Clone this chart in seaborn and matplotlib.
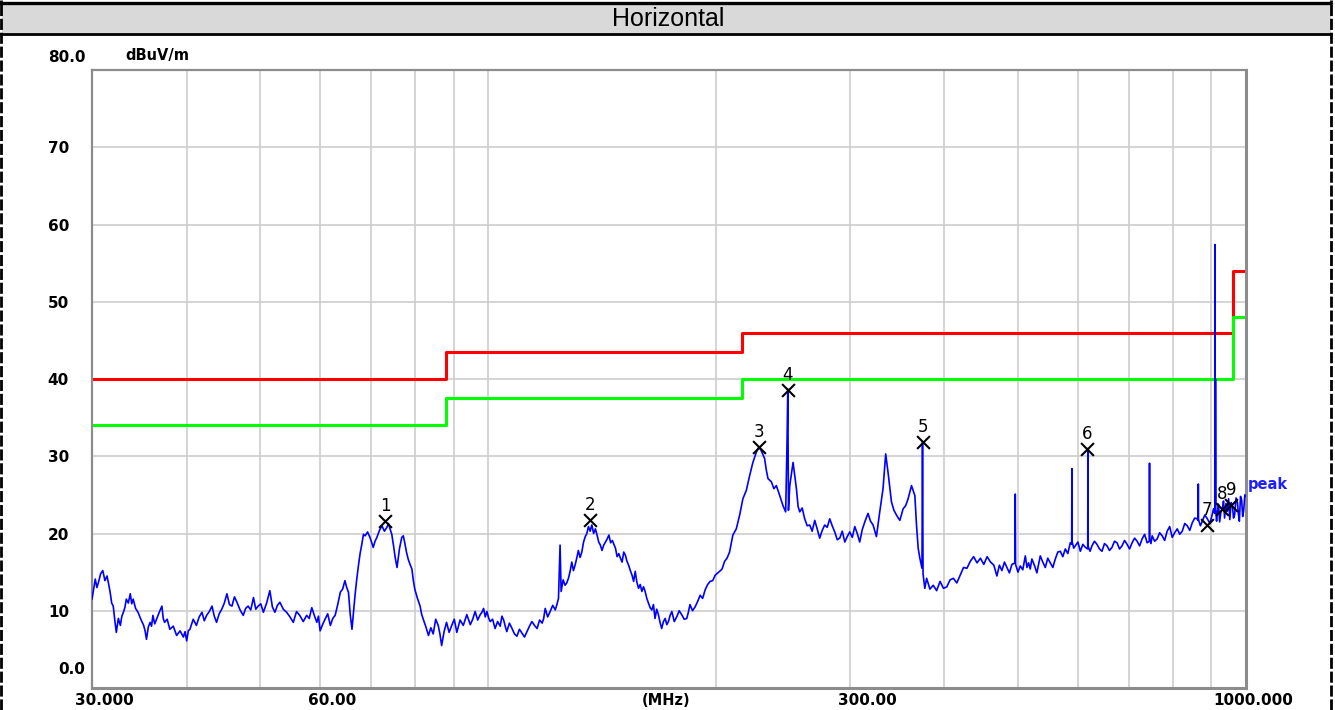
import matplotlib
matplotlib.use("Agg")
import matplotlib.pyplot as plt
import matplotlib.transforms as mtransforms
from matplotlib.lines import Line2D
from matplotlib.patches import Rectangle
from matplotlib.ticker import FixedLocator, LogLocator, NullFormatter
import seaborn as sns

# ---------------- data ----------------
trace_freq = [
    30.0, 30.15, 30.3, 30.45, 30.6, 30.8, 31.0, 31.2, 31.4, 31.55,
    31.7, 31.85, 32.0, 32.15, 32.3, 32.5, 32.7, 32.85, 33.0, 33.15,
    33.3, 33.5, 33.7, 33.85, 34.0, 34.25, 34.5, 34.8, 35.1, 35.25,
    35.4, 35.6, 35.8, 35.95, 36.1, 36.3, 36.5, 36.8, 37.1, 37.25,
    37.4, 37.7, 38.0, 38.4, 38.8, 39.2, 39.6, 39.8, 40.0, 40.2,
    40.4, 40.8, 41.2, 41.55, 41.9, 42.2, 42.5, 42.85, 43.2, 43.5,
    43.8, 44.15, 44.5, 44.85, 45.2, 45.55, 45.9, 46.25, 46.6, 47.05,
    47.5, 47.85, 48.2, 48.6, 49.0, 49.35, 49.7, 50.1, 50.5, 51.0,
    51.5, 51.9, 52.3, 52.7, 53.1, 53.65, 54.2, 54.75, 55.3, 55.85,
    56.4, 57.0, 57.6, 58.05, 58.5, 58.95, 59.4, 59.7, 60.0, 60.45,
    60.9, 61.4, 61.9, 62.35, 62.8, 63.3, 63.8, 64.25, 64.7, 65.05,
    65.4, 65.75, 66.1, 66.4, 66.7, 67.05, 67.4, 67.75, 68.1, 68.45,
    68.8, 69.3, 69.8, 70.15, 70.5, 70.9, 71.3, 71.85, 72.4, 72.95,
    73.5, 73.85, 74.2, 74.6, 75.0, 75.4, 75.8, 76.35, 76.9, 77.25,
    77.6, 78.0, 78.4, 78.85, 79.3, 79.65, 80.0, 80.65, 81.3, 81.7,
    82.1, 82.75, 83.4, 84.0, 84.6, 85.25, 85.9, 86.35, 86.8, 87.45,
    88.1, 88.8, 89.5, 90.2, 90.9, 91.8, 92.7, 93.7, 94.7, 95.4,
    96.1, 96.85, 97.6, 98.1, 98.6, 99.1, 99.6, 100.1, 100.6, 101.35,
    102.1, 102.9, 103.7, 104.25, 104.8, 105.3, 105.8, 106.65, 107.5, 108.3,
    109.1, 109.95, 110.8, 111.65, 112.5, 113.35, 114.2, 115.1, 116.0, 116.9,
    117.8, 118.35, 118.9, 119.8, 120.7, 121.65, 122.6, 123.2, 123.8, 124.4,
    124.8, 125.55, 126.3, 126.95, 127.6, 128.25, 128.9, 129.55, 130.2, 130.85,
    131.5, 132.2, 132.9, 133.6, 134.3, 134.95, 135.6, 136.3, 137.0, 137.75,
    138.5, 139.2, 139.9, 140.6, 141.3, 142.05, 142.8, 143.55, 144.3, 145.05,
    145.8, 146.5, 147.2, 147.95, 148.7, 149.45, 150.2, 150.95, 151.7, 152.45,
    153.2, 154.0, 154.8, 155.55, 156.3, 157.1, 157.9, 158.7, 159.5, 160.3,
    161.1, 161.9, 162.7, 163.55, 164.4, 165.2, 166.0, 166.85, 167.7, 168.55,
    169.4, 170.3, 171.2, 172.05, 172.9, 173.8, 174.7, 176.0, 177.3, 178.65,
    180.0, 181.4, 182.8, 183.7, 184.6, 186.05, 187.5, 188.95, 190.4, 191.85,
    193.3, 194.8, 196.3, 197.8, 199.3, 202.0, 203.5, 205.1, 206.6, 208.2,
    210.3, 212.5, 214.7, 216.8, 219.1, 221.3, 223.5, 225.8, 227.6, 229.3,
    231.6, 232.8, 234.0, 236.4, 238.2, 240.0, 242.5, 244.9, 246.9, 247.9,
    248.5, 249.0, 250.0, 252.5, 255.1, 256.4, 257.7, 259.6, 261.6, 263.6,
    265.6, 267.6, 269.7, 271.7, 273.8, 275.9, 278.0, 280.1, 282.3, 284.4,
    286.6, 288.8, 291.0, 293.2, 295.5, 297.7, 300.0, 302.3, 304.6, 306.9,
    309.2, 311.6, 314.0, 317.1, 319.5, 322.0, 325.3, 328.6, 331.9, 334.6,
    337.0, 340.5, 343.1, 345.7, 349.3, 352.8, 355.5, 358.2, 361.9, 365.6,
    367.5, 369.3, 371.2, 373.6, 374.2, 374.8, 376.8, 378.9, 382.7, 386.6,
    390.6, 394.7, 398.8, 402.9, 406.9, 411.0, 415.3, 419.6, 423.9, 428.3,
    432.7, 437.1, 441.6, 446.2, 450.8, 455.4, 460.1, 464.8, 467.0, 469.1,
    472.7, 476.3, 480.0, 483.6, 487.3, 491.0, 495.6, 496.0, 496.5, 500.1,
    503.7, 507.5, 511.4, 514.0, 516.5, 519.1, 521.7, 525.7, 529.7, 532.5,
    535.2, 539.3, 543.4, 547.5, 551.7, 556.0, 560.2, 564.5, 568.8, 573.1,
    577.5, 581.9, 586.3, 588.8, 589.2, 589.7, 592.5, 595.3, 600.0, 604.5,
    609.1, 613.8, 618.2, 618.6, 619.1, 622.6, 626.2, 631.0, 635.8, 640.7,
    645.6, 650.5, 655.5, 660.5, 665.5, 670.6, 675.8, 680.9, 686.1, 691.4,
    696.7, 702.0, 707.4, 712.8, 718.3, 723.8, 729.3, 734.9, 740.5, 745.4,
    745.9, 746.4, 749.1, 751.9, 757.6, 763.4, 769.2, 775.1, 781.0, 787.0,
    793.0, 799.1, 805.2, 811.4, 817.6, 823.9, 830.2, 836.5, 842.9, 849.4,
    855.9, 862.4, 864.6, 865.1, 865.6, 870.6, 875.7, 882.4, 889.2, 896.0,
    902.8, 906.1, 909.5, 910.2, 910.9, 911.5, 912.2, 914.4, 916.7, 919.8,
    923.0, 926.9, 930.8, 933.9, 937.0, 941.0, 945.1, 948.5, 952.0, 955.8,
    959.6, 962.8, 966.0, 970.2, 974.4, 977.2, 980.0, 983.5, 987.0, 990.0,
    993.0, 996.5, 1000.0,
]
trace_level = [
    11.5, 12.8, 14.1, 13.0, 13.7, 14.8, 15.2, 13.9, 14.5, 13.5,
    12.4, 11.0, 10.6, 8.8, 7.2, 9.0, 8.1, 9.3, 9.8, 10.4,
    11.5, 11.0, 12.2, 10.9, 11.5, 10.3, 9.8, 8.9, 8.1, 7.4,
    6.3, 7.9, 8.5, 8.0, 9.4, 8.3, 8.9, 9.8, 10.6, 9.0,
    8.5, 8.9, 7.6, 8.0, 6.8, 7.4, 6.6, 7.3, 6.1, 7.4,
    7.6, 8.9, 8.1, 9.2, 9.8, 8.7, 9.4, 9.9, 10.6, 9.3,
    8.5, 9.6, 10.2, 11.0, 12.2, 10.8, 10.6, 11.8, 11.1, 10.1,
    9.4, 10.3, 10.6, 10.1, 11.7, 10.2, 10.6, 10.9, 9.8, 11.0,
    12.6, 10.5, 9.8, 10.7, 11.1, 10.2, 9.8, 9.2, 8.5, 9.9,
    9.4, 8.6, 9.4, 9.0, 10.4, 9.4, 8.5, 9.3, 7.4, 8.2,
    8.9, 9.6, 8.1, 9.0, 9.4, 10.8, 12.4, 12.8, 13.9, 13.0,
    12.4, 9.5, 7.6, 9.8, 11.9, 14.0, 15.8, 17.4, 18.6, 19.9,
    19.7, 20.2, 19.5, 18.9, 18.2, 19.0, 19.5, 20.4, 21.0, 20.3,
    20.8, 21.3, 20.6, 19.9, 18.4, 16.8, 15.6, 18.0, 19.5, 19.7,
    18.8, 17.6, 16.7, 16.0, 15.4, 13.9, 12.8, 11.6, 10.6, 9.5,
    8.9, 7.9, 6.8, 7.8, 7.0, 8.9, 8.1, 7.0, 5.5, 7.3,
    8.5, 7.2, 8.1, 8.9, 7.2, 8.8, 8.1, 9.5, 8.2, 8.9,
    9.9, 8.8, 9.5, 9.8, 10.3, 9.2, 9.9, 9.1, 8.6, 8.9,
    7.7, 8.6, 8.0, 9.3, 8.8, 8.0, 7.3, 8.4, 7.7, 7.0,
    6.7, 7.6, 7.1, 6.6, 7.3, 8.0, 8.6, 8.1, 7.7, 8.8,
    8.4, 9.0, 10.3, 9.2, 9.9, 10.7, 10.1, 10.8, 11.6, 18.5,
    12.5, 14.0, 13.3, 13.6, 14.2, 15.1, 16.3, 15.2, 15.9, 16.8,
    17.8, 16.9, 17.6, 18.9, 19.6, 20.0, 20.9, 20.3, 21.1, 20.0,
    20.6, 19.8, 18.9, 18.5, 17.8, 18.5, 18.9, 19.3, 19.8, 18.8,
    19.1, 18.6, 18.1, 17.0, 17.4, 16.8, 16.3, 17.6, 17.2, 16.4,
    15.9, 15.2, 14.6, 13.8, 15.1, 13.7, 12.9, 13.4, 12.5, 13.1,
    12.5, 11.6, 11.0, 10.4, 10.1, 10.8, 9.0, 10.2, 9.5, 8.5,
    7.7, 8.6, 9.0, 8.2, 8.6, 9.4, 9.9, 8.6, 9.2, 10.0,
    9.5, 8.9, 9.0, 9.8, 10.8, 10.0, 10.5, 11.2, 12.0, 11.6,
    12.7, 13.4, 13.8, 13.9, 14.6, 15.1, 15.4, 16.4, 16.8, 17.6,
    19.8, 20.6, 22.4, 24.5, 25.6, 27.5, 29.2, 30.5, 31.2, 30.7,
    29.7, 28.2, 27.1, 26.7, 25.8, 26.2, 24.9, 23.6, 22.8, 31.5,
    38.7, 23.0, 26.2, 29.2, 25.8, 23.5, 22.8, 23.3, 21.9, 21.0,
    21.1, 20.3, 21.7, 20.6, 19.4, 20.4, 21.1, 20.8, 21.9, 21.0,
    20.2, 19.2, 19.4, 20.3, 18.9, 19.6, 20.2, 19.5, 20.9, 20.0,
    18.9, 20.5, 21.5, 22.6, 21.6, 21.1, 19.6, 22.8, 25.8, 30.3,
    27.9, 24.1, 23.0, 22.4, 21.7, 23.2, 23.6, 24.5, 26.2, 24.9,
    21.0, 18.1, 16.8, 15.5, 31.8, 14.8, 12.9, 14.2, 12.8, 13.3,
    12.6, 13.8, 12.9, 13.1, 14.0, 14.2, 13.6, 14.6, 15.6, 15.5,
    16.4, 17.0, 16.2, 16.8, 16.0, 17.0, 16.3, 15.9, 15.2, 14.5,
    15.9, 15.2, 16.3, 15.6, 14.9, 16.0, 16.2, 25.1, 16.0, 15.0,
    15.8, 15.3, 17.1, 15.6, 16.2, 15.4, 16.7, 15.9, 14.9, 16.0,
    17.1, 16.3, 15.6, 16.8, 16.2, 15.6, 16.7, 17.6, 17.7, 17.0,
    18.0, 17.4, 18.8, 18.6, 28.4, 18.9, 18.1, 18.4, 18.9, 17.7,
    18.6, 18.2, 18.0, 31.0, 18.3, 17.7, 18.4, 19.0, 18.6, 18.0,
    17.7, 18.7, 18.4, 17.8, 18.2, 19.0, 18.8, 18.0, 18.4, 19.1,
    18.6, 18.0, 18.8, 19.4, 19.0, 18.4, 19.3, 19.9, 18.8, 19.0,
    29.1, 19.2, 18.7, 19.7, 19.0, 19.3, 20.1, 19.7, 19.1, 20.3,
    20.9, 19.5, 20.1, 20.6, 19.9, 20.3, 21.3, 21.0, 20.4, 21.4,
    22.0, 21.9, 21.7, 26.4, 21.8, 21.0, 21.6, 22.4, 21.9, 21.3,
    22.5, 23.2, 22.6, 57.4, 24.0, 40.0, 23.0, 21.6, 22.7, 23.8,
    21.5, 22.9, 23.2, 24.2, 22.0, 23.9, 22.9, 24.5, 21.8, 24.0,
    23.6, 22.0, 22.4, 24.6, 24.0, 22.5, 21.6, 24.8, 24.3, 22.2,
    23.0, 25.0, 24.8,
]
limit_freq = [30, 88, 216, 960, 1000]
limit_red = [40, 43.5, 46, 54, 54]
limit_green = [34, 37.5, 40, 48, 48]

marker_freq = [73.1, 136.3, 227.6, 248.5, 374.2, 617.6, 889.2, 930.8, 954.9]
marker_level = [21.6, 21.7, 31.2, 38.6, 31.8, 30.9, 21.1, 23.2, 23.7]
marker_label = ["1", "2", "3", "4", "5", "6", "7", "8", "9"]

y_ticks = [0, 10, 20, 30, 40, 50, 60, 70, 80]
y_tick_labels = ["0.0", "10", "20", "30", "40", "50", "60", "70", "80.0"]
x_ticks = [30, 60, 300, 1000]
x_tick_labels = ["30.000", "60.00", "300.00", "1000.000"]
x_unit = "(MHz)"
y_unit = "dBuV/m"
title_text = "Horizontal"
trace_name = "peak"

# ---------------- figure ----------------
sns.set_style("white")
plt.rcParams["font.family"] = ["DejaVu Sans"]
plt.rcParams["text.color"] = "black"
plt.rcParams["xtick.color"] = "black"
plt.rcParams["ytick.color"] = "black"
plt.rcParams["axes.labelcolor"] = "black"

W, H = 1335, 710
fig = plt.figure(figsize=(W / 100, H / 100), dpi=100)
fig.patch.set_facecolor("white")
ax = fig.add_axes([92 / W, 1 - 688 / H, (1246 - 92) / W, (688 - 70) / H])
ax.set_xscale("log")
ax.set_xlim(30, 1000)
ax.set_ylim(0, 80)

# grid
ax.xaxis.set_major_locator(FixedLocator(x_ticks))
ax.xaxis.set_minor_locator(LogLocator(base=10, subs=[1, 2, 3, 4, 5, 6, 7, 8, 9], numticks=20))
ax.xaxis.set_minor_formatter(NullFormatter())
ax.set_yticks(y_ticks)
ax.grid(True, which="both", axis="x", color="#cdcdcd", lw=1.2)
ax.grid(True, which="major", axis="y", color="#cdcdcd", lw=1.2)
ax.set_axisbelow(True)
ax.tick_params(which="both", length=0, colors="black")

# limit lines
sns.lineplot(x=limit_freq, y=limit_red, drawstyle="steps-post", color="#ff0000",
             lw=2.2, ax=ax, estimator=None, zorder=2)
sns.lineplot(x=limit_freq, y=limit_green, drawstyle="steps-post", color="#00ff00",
             lw=2.2, ax=ax, estimator=None, zorder=2)

# trace
sns.lineplot(x=trace_freq, y=trace_level, color="#0000ff", lw=1.2, ax=ax,
             estimator=None, sort=False, zorder=3)

# markers
sns.scatterplot(x=marker_freq, y=marker_level, marker="x", s=85, color="black",
                linewidth=1.5, ax=ax, zorder=5)
for f, lv, t in zip(marker_freq, marker_level, marker_label):
    ax.annotate(t, (f, lv), xytext=(0, 11), textcoords="offset points",
                ha="center", va="center", fontsize=12, color="black", zorder=6)

# tick labels
px = 0.72  # points per pixel at dpi 100
ax.set_xticklabels(x_tick_labels, fontsize=11, fontweight="bold", color="black")
ax.tick_params(axis="x", pad=3.5)
x_offsets = {"30.000": 12, "60.00": 12, "300.00": 17.5, "1000.000": 7}
for lab in ax.get_xticklabels():
    dx = x_offsets.get(lab.get_text(), 0)
    lab.set_transform(lab.get_transform() +
                      mtransforms.ScaledTranslation(dx * px / 72, 0, fig.dpi_scale_trans))

ax.set_yticklabels(y_tick_labels, fontsize=11, fontweight="bold", color="black")
ax.tick_params(axis="y", pad=23 * px)
y_offsets = {"80.0": (16.5, 14), "0.0": (16.5, 20)}
for lab in ax.get_yticklabels():
    dx, dy = y_offsets.get(lab.get_text(), (0, 0))
    lab.set_transform(lab.get_transform() +
                      mtransforms.ScaledTranslation(dx * px / 72, dy * px / 72, fig.dpi_scale_trans))

ax.annotate(x_unit, xy=(0.4974, 0), xycoords="axes fraction", xytext=(0, -3.5),
            textcoords="offset points", ha="center", va="top", fontsize=10.5,
            fontweight="bold", color="black")
ax.annotate(y_unit, xy=(0.0286, 1), xycoords="axes fraction", xytext=(0, 10.8),
            textcoords="offset points", ha="left", va="center", fontsize=10.5,
            fontweight="bold", color="black")
ax.annotate(trace_name, xy=(1000, 26.3), xycoords="data", xytext=(2 * px, 0),
            textcoords="offset points", ha="left", va="center", fontsize=10.5,
            fontweight="bold", color="#1e1eff", annotation_clip=False)

# spines
for side in ["top", "left"]:
    ax.spines[side].set_color("#8c8c8c")
    ax.spines[side].set_linewidth(1.6)
for side in ["bottom", "right"]:
    ax.spines[side].set_color("#8c8c8c")
    ax.spines[side].set_linewidth(2.2)

# title bar and outer frame
fig.patches.append(Rectangle((2 / W, 1 - 33 / H), 1329 / W, 30 / H,
                             transform=fig.transFigure, facecolor="#d9d9d9",
                             edgecolor="none", zorder=0))
fig.add_artist(Line2D([0, 1331 / W], [1 - 2.5 / H, 1 - 2.5 / H], color="black", lw=2.4))
fig.add_artist(Line2D([0, 1331 / W], [1 - 33.5 / H, 1 - 33.5 / H], color="black", lw=2.0))
fig.add_artist(Line2D([1.3 / W, 1.3 / W], [0, 1], color="black", lw=2.0,
                      linestyle=(0, (4, 1))))
fig.add_artist(Line2D([1331 / W, 1331 / W], [0, 1], color="black", lw=2.0,
                      linestyle=(0, (4, 1))))
fig.text(668 / W, 1 - 18.5 / H, title_text, ha="center", va="center", color="black",
         fontsize=18, family=["Liberation Sans", "DejaVu Sans"])

fig.savefig("out.png", dpi=100, facecolor="white")
